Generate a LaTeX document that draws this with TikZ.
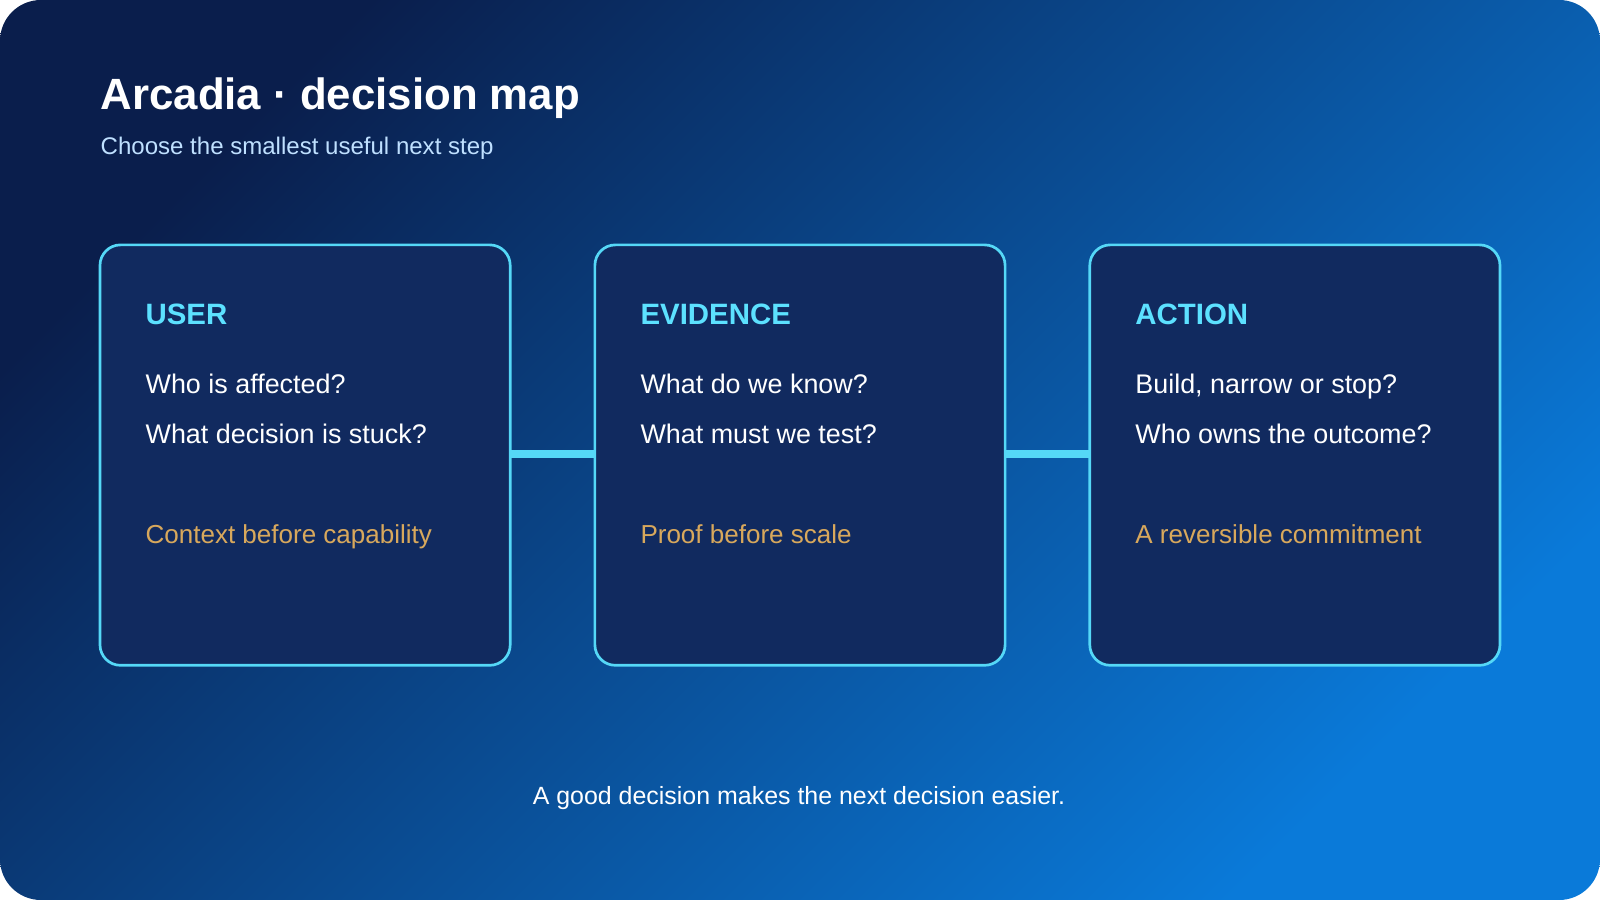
\documentclass[tikz,border=0pt]{standalone}
\usepackage{fontspec}
\setmainfont{Liberation Sans}
\usetikzlibrary{positioning}
\definecolor{bgdark}{HTML}{0A1E4C}
\definecolor{bglight}{HTML}{0A7AD9}
\definecolor{cardfill}{HTML}{112A5F}
\definecolor{cardline}{HTML}{55D8F7}
\definecolor{headcyan}{HTML}{5CE1FF}
\definecolor{subblue}{HTML}{BFE0FF}
\definecolor{taggold}{HTML}{D8A85C}
\tikzset{
  card/.style={draw=cardline, line width=0.75pt, fill=cardfill, rounded corners=5.7pt},
  link/.style={draw=cardline, line width=2pt},
  head/.style={anchor=base west, text=headcyan, font=\bfseries\fontsize{8.2}{10}\selectfont, inner sep=0pt},
  ask/.style={anchor=base west, text=white, font=\fontsize{7.5}{9}\selectfont, inner sep=0pt},
  tag/.style={anchor=base west, text=taggold, font=\fontsize{7.25}{9}\selectfont, inner sep=0pt}
}
\begin{document}
\begin{tikzpicture}[x=0.01cm, y=-0.01cm]
        \useasboundingbox (0,0) rectangle (1568,882);
        \fill[white] (0,0) rectangle (1568,882);
        \shade[rounded corners=11.4pt, left color=bglight, right color=bgdark, shading angle=-135]
            (0,0) rectangle (1568,882);

        %% title
        \node[anchor=base west, text=white, font=\bfseries\fontsize{12.2}{14}\selectfont, inner sep=0pt] (title) at (98,107) {Arcadia · decision map};
        \node[anchor=base west, text=subblue, font=\fontsize{6.7}{8}\selectfont, inner sep=0pt] (subtitle) at (98,151) {Choose the smallest useful next step};

        %% cards
        \draw[card] (98,240) rectangle (500,652);
        \draw[card] (583,240) rectangle (985,652);
        \draw[card] (1068,240) rectangle (1470,652);
        \coordinate (userR) at (500,445);
        \coordinate (evidL) at (583,445);
        \coordinate (evidR) at (985,445);
        \coordinate (actL) at (1068,445);
        \draw[link] (userR) -- (evidL);
        \draw[link] (evidR) -- (actL);

        %% card 1
        \node[head] (userhead) at (142,318) {USER};
        \node[ask] (userq1) at (142,386) {Who is affected?};
        \node[ask] (userq2) at (142,435) {What decision is stuck?};
        \node[tag] (usertag) at (142,533) {Context before capability};

        %% card 2
        \node[head] (evidhead) at (627,318) {EVIDENCE};
        \node[ask] (evidq1) at (627,386) {What do we know?};
        \node[ask] (evidq2) at (627,435) {What must we test?};
        \node[tag] (evidtag) at (627,533) {Proof before scale};

        %% card 3
        \node[head] (acthead) at (1112,318) {ACTION};
        \node[ask] (actq1) at (1112,386) {Build, narrow or stop?};
        \node[ask] (actq2) at (1112,435) {Who owns the outcome?};
        \node[tag] (acttag) at (1112,533) {A reversible commitment};

        %% footer
        \node[anchor=base, text=white, font=\fontsize{6.95}{8}\selectfont, inner sep=0pt] (footer) at (783,788) {A good decision makes the next decision easier.};
\end{tikzpicture}
\end{document}
